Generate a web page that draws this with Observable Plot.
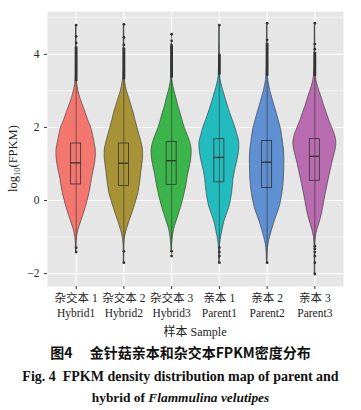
<!DOCTYPE html>
<html><head><meta charset="utf-8">
<script src="https://cdn.jsdelivr.net/npm/d3@7"></script>
<script src="https://cdn.jsdelivr.net/npm/@observablehq/plot@0.6"></script>
<style>
body{margin:0;background:#fff;width:361px;height:410px;overflow:hidden;position:relative;}
.cap{position:absolute;left:0;width:361px;text-align:center;color:#111;white-space:pre;}
</style></head><body>
<div id="chart"></div>
<div class="cap" id="c1" style="top:342px;height:20px;line-height:20px;font-family:'Noto Sans CJK SC',sans-serif;font-weight:bold;font-size:14px;">图4　 金针菇亲本和杂交本FPKM密度分布</div>
<div class="cap" id="c2" style="top:366px;height:22px;line-height:22px;font-family:'Liberation Serif',serif;font-weight:bold;font-size:14px;">Fig. 4&#8194;FPKM density distribution map of parent and</div>
<div class="cap" id="c3" style="top:387px;height:22px;line-height:22px;font-family:'Liberation Serif',serif;font-weight:bold;font-size:13.4px;">hybrid of <i>Flammulina velutipes</i></div>
<script>
const samples = ["Hybrid1","Hybrid2","Hybrid3","Parent1","Parent2","Parent3"];
const samplesZh = ["杂交本 1","杂交本 2","杂交本 3","亲本 1","亲本 2","亲本 3"];
const colors = ["#F3766F","#A89236","#3BB44A","#22BCBE","#5E90D2","#B86BAE"];

// log10(FPKM) levels at which violin half-widths were read
const levels = [-2.0,-1.7,-1.4,-1.2,-1.0,-0.8,-0.6,-0.4,-0.2,0,0.2,0.4,0.6,0.8,1.0,1.2,1.4,1.6,1.8,2.0,2.2,2.4,2.6,2.8,3.0,3.2,3.4,3.8,4.3,4.8];
// relative density (violin half-width) per sample
const densHybrid1 = [null,null,0.1,0.3,0.9,2.4,4.8,7.2,9.5,11.5,13.3,14.7,15.8,17.3,18.8,19.6,19.6,18.2,16.8,15,12,9.5,6.8,4.2,2.3,1,0.5,0.3,0.2,0.1];
const densHybrid2 = [null,0.1,0.2,0.4,1.2,3.0,5.2,7.8,10.2,12.5,14.5,15.8,16.7,17.5,18.5,19.2,19,17.5,15.5,13.5,11.5,9.8,7.5,5.3,3,1.5,0.6,0.3,0.2,0.1];
const densHybrid3 = [null,null,0.2,0.5,1.2,2.4,4.6,7,9.3,11.3,13,14.6,15.8,17.2,18.8,19.8,20,18.5,15.8,13,10.8,8.8,6.5,4.8,2.8,1.2,0.5,0.3,0.15,null];
const densParent1 = [null,0.1,0.3,0.7,1.8,3.3,4.8,7.2,9.8,11.5,12.7,13.5,14.2,15.5,17.2,18.8,19.8,19.8,18,16,13.3,10.7,8.3,6.2,4,2,0.8,0.3,0.2,0.1];
const densParent2 = [null,0.1,0.6,1.3,3,5,7.2,9.8,12.3,14,15.3,16.2,16.8,17,17.2,17.2,16.8,15.8,14.8,13.5,11.5,9.5,7.3,5.2,3.2,1.7,0.8,0.3,0.2,0.1];
const densParent3 = [0.05,0.1,0.2,0.4,1,2.6,4.8,6.8,8.3,9.6,11,12.5,14,15.6,17.2,19,20.8,21.5,20,17.2,14.3,11.8,9.2,7,4.5,2.3,1,0.4,0.2,0.1];

// box statistics
const q1 =     [0.44,0.40,0.43,0.50,0.34,0.54];
const median = [1.03,1.02,1.09,1.18,1.05,1.21];
const q3 =     [1.56,1.56,1.60,1.68,1.63,1.68];
const minVal = [-1.41,-1.70,-1.52,-1.70,-1.70,-2.01];
const maxVal = [4.80,4.82,4.55,4.80,4.85,4.85];

// outliers
const outHigh = [[4.80,4.49,4.31],[4.82,4.46,4.26],[4.55,4.37],[4.80],[4.85,4.39],[4.85,4.28,4.14]];
const denseHighFrom = [3.25,3.30,3.35,3.43,3.40,3.39];
const denseHighTo =   [4.20,4.17,4.26,4.00,4.30,4.05];
const outLow = [[-1.29,-1.41],[-1.39,-1.70],[-1.39,-1.52],[-1.29,-1.41,-1.52,-1.70],[-1.70],[-1.25,-1.32,-1.41,-1.52,-1.70,-2.01]];

const densities = [densHybrid1,densHybrid2,densHybrid3,densParent1,densParent2,densParent3];
const step = 47.7; // px per category, to convert half-width readings
const violin = [];
densities.forEach((arr,i)=>arr.forEach((w,j)=>{ if(w!=null) violin.push({sample:samples[i], idx:i+1, y:levels[j], w:w/step}); }));
const stats = samples.map((s,i)=>({sample:s, idx:i+1, q1:q1[i], med:median[i], q3:q3[i], lo:minVal[i], hi:maxVal[i], dlo:denseHighFrom[i], dhi:denseHighTo[i]}));
const outs = [];
samples.forEach((s,i)=>{ outHigh[i].forEach(v=>outs.push({idx:i+1,v})); outLow[i].forEach(v=>outs.push({idx:i+1,v})); });

const ink = "#333";
const chart = Plot.plot({
  width: 361, height: 342,
  marginTop: 11, marginBottom: 56, marginLeft: 47, marginRight: 18,
  x: {domain:[0.4,6.6]},
  y: {domain:[-2.352,5.172]},
  color: {domain: samples, range: colors},
  style: {fontFamily:"'Liberation Serif','Noto Sans CJK SC',serif", fontSize:"11.5px", color:"#222", background:"#fff"},
  marks: [
    Plot.frame({fill:"#e6e6e6", stroke:null}),
    Plot.ruleY([-1,1,3,5], {stroke:"#fff", strokeWidth:0.5}),
    Plot.ruleY([-2,0,2,4], {stroke:"#fff", strokeWidth:1.1}),
    Plot.ruleX([1,2,3,4,5,6], {stroke:"#fff", strokeWidth:1.1}),
    Plot.areaX(violin, {y:"y", x1:d=>d.idx-d.w, x2:d=>d.idx+d.w, z:"sample", fill:"sample", stroke:ink, strokeWidth:0.6, curve:"catmull-rom"}),
    Plot.rect(stats, {x1:d=>d.idx-0.105, x2:d=>d.idx+0.105, y1:"q1", y2:"q3", fill:null, stroke:ink, strokeWidth:0.8}),
    Plot.ruleX(stats, {x:"idx", y1:"lo", y2:"hi", stroke:ink, strokeWidth:0.6}),
    Plot.ruleX(stats, {x:"idx", y1:"dlo", y2:"dhi", stroke:ink, strokeWidth:2.8}),
    Plot.ruleY(stats, {y:"med", x1:d=>d.idx-0.105, x2:d=>d.idx+0.105, stroke:ink, strokeWidth:1.3}),
    Plot.dot(outs, {x:"idx", y:"v", r:1.4, fill:ink, stroke:null}),
    Plot.axisY({ticks:[-2,0,2,4], tickSize:3, tickPadding:5, label:null, stroke:"#333", fill:"#222"}),
    Plot.axisX({ticks:[1,2,3,4,5,6], tickFormat:i=>samplesZh[i-1]+"\n"+samples[i-1], tickSize:3, tickPadding:2, lineHeight:1.3, label:null, stroke:"#333", fill:"#222"})
  ]
});
document.getElementById("chart").appendChild(chart);
const svg = d3.select(chart);
const yl = svg.append("text").attr("transform","translate(17,192) rotate(-90)").attr("text-anchor","start")
  .attr("font-size","12.5px").attr("fill","#222").attr("font-family","'Liberation Serif',serif");
yl.append("tspan").text("log");
yl.append("tspan").attr("dy","3").attr("font-size","8.5px").text("10");
yl.append("tspan").attr("dy","-3").text("(FPKM)");
svg.append("text").attr("x",195).attr("y",332).attr("dy","0.35em").attr("text-anchor","middle")
  .attr("font-size","12px").attr("fill","#222").attr("font-family","'Liberation Serif','Noto Sans CJK SC',serif").text("样本 Sample");
</script>
</body></html>
